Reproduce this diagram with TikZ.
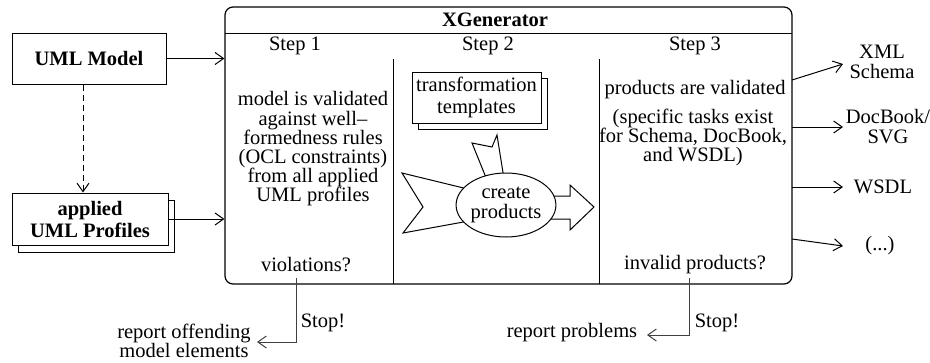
\documentclass[tikz,border=0pt]{standalone}
\usepackage{fontspec}
\setmainfont{Liberation Serif}
\usetikzlibrary{arrows.meta,shapes.geometric}
\newcommand\fsz[1]{\fontsize{20.5}{#1}\selectfont}
\begin{document}
\begin{tikzpicture}[x=1pt,y=-1pt,
  every node/.style={font=\fsz{20}, inner sep=2pt},
  line/.style={line width=1pt},
  arr/.style={line width=1pt, -{Straight Barb[length=8.5pt,width=12pt,line width=1pt]}},
  box/.style={draw, line width=1pt, fill=white, inner sep=0pt},
  stopline/.style={arr, draw=black!75},
]
\useasboundingbox (0,0) rectangle (930,362);

% generator frame with title bar and three step columns
\node[draw, line width=1.2pt, rounded corners=8pt, minimum width=567pt,
      minimum height=277pt, inner sep=0pt] (gen) at (508.5,145.5) {};
\node[font=\fsz{20}\bfseries] (title) at (495,20) {XGenerator};
\coordinate (tl) at (225,33);
\coordinate (tr) at (792,33);
\draw[line] (tl) -- (tr);
\coordinate (d1t) at (393,59);
\coordinate (d1b) at (393,284);
\coordinate (d2t) at (599,59);
\coordinate (d2b) at (599,284);
\draw[line] (d1t) -- (d1b);
\draw[line] (d2t) -- (d2b);

% step 1
\node (s1) at (295,46) {Step 1};
\node[align=center, font=\fsz{19.2}] (s1txt) at (313,149)
  {model is validated\\against well–\\formedness rules\\(OCL constraints)\\from all applied\\UML profiles};
\node (viol) at (306,265) {violations?};

% step 2
\node (s2) at (488,46) {Step 2};
\node[box, minimum width=129pt, minimum height=51pt] (tmplback) at (482.5,103.5) {};
\node[box, minimum width=129pt, minimum height=51pt, align=center, font=\fsz{22}]
  (tmpl) at (476.5,97.5) {transformation\\templates};
\draw[line, fill=white] (402,173) -- (480,192) -- (480,219) -- (403,233) -- (423,207) -- cycle;
\draw[line, fill=white] (489,185) -- (472,143) -- (492,147) -- (497,135) -- (505,185) -- cycle;
\draw[line, fill=white] (540,196) -- (570,196) -- (570,185) -- (594,207) -- (570,230)
  -- (570,219) -- (540,219) -- cycle;
\node[draw, ellipse, line width=1pt, fill=white, minimum width=98pt, minimum height=64pt,
      inner sep=0pt, align=center, font=\fsz{20}] (create) at (506,205) {create\\products};

% step 3
\node (s3) at (695,46) {Step 3};
\node (s3a) at (695,90) {products are validated};
\node[align=center, font=\fsz{19}] (s3b) at (693,137)
  {(specific tasks exist\\for Schema, DocBook,\\and WSDL)};
\node (inv) at (695,265) {invalid products?};

% inputs
\node[box, minimum width=154pt, minimum height=51pt, font=\fsz{20}\bfseries]
  (uml) at (89,58.5) {UML Model};
\node[box, minimum width=156pt, minimum height=52pt] (profback) at (96,226) {};
\node[box, minimum width=156pt, minimum height=52pt, align=center, font=\fsz{22}\bfseries]
  (prof) at (90,219) {applied\\UML Profiles};
\draw[arr] (uml.east) -- (uml.east -| gen.west);
\draw[arr] (prof.east) -- (prof.east -| gen.west);
\draw[arr, dash pattern=on 6pt off 4pt] ([xshift=-6pt]uml.south) -- ([xshift=-6pt]uml.south |- prof.north);

% outputs
\node[align=center, font=\fsz{20}] (xml) at (882,62) {XML\\Schema};
\node[align=center, font=\fsz{20}] (doc) at (888,127) {DocBook/\\SVG};
\node (wsdl) at (883,187) {WSDL};
\node (etc) at (880,246) {(...)};
\coordinate (o1) at (792,80);
\coordinate (e1) at (843,64);
\coordinate (o2) at (792,127);
\coordinate (e2) at (843,127);
\coordinate (o3) at (792,187);
\coordinate (e3) at (843,187);
\coordinate (o4) at (792,239);
\coordinate (e4) at (843,246);
\draw[arr] (o1) -- (e1);
\draw[arr] (o2) -- (e2);
\draw[arr] (o3) -- (e3);
\draw[arr] (o4) -- (e4);

% error exits
\coordinate (v1) at (296,278);
\coordinate (t1) at (257,342);
\draw[stopline] (v1) |- (t1);
\node (stop1) at (323,323) {Stop!};
\node[align=center, font=\fsz{19}] (rep1) at (184,341) {report offending\\model elements};
\coordinate (v2) at (689,278);
\coordinate (t2) at (647,335);
\draw[stopline] (v2) |- (t2);
\node (stop2) at (717,323) {Stop!};
\node (rep2) at (572,333) {report problems};
\end{tikzpicture}
\end{document}
